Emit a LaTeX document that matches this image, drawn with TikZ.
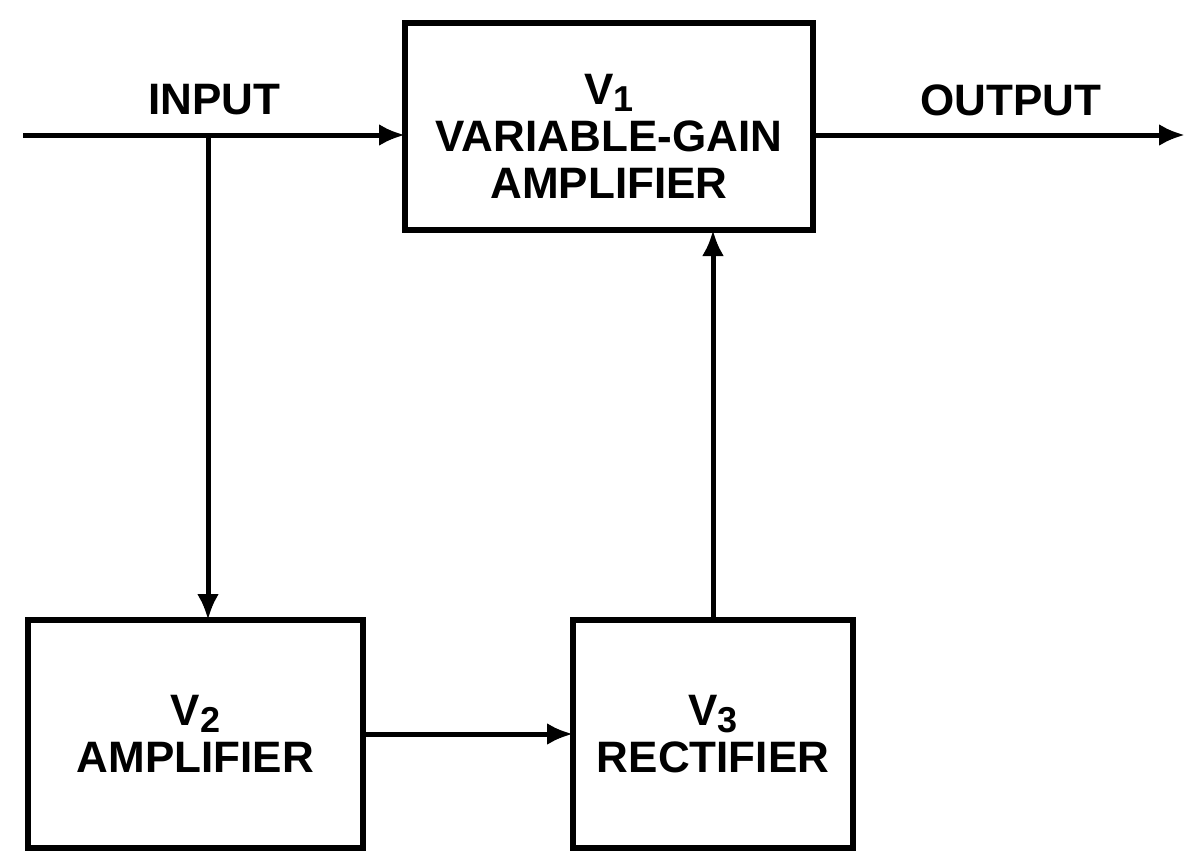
\documentclass[tikz,border=0pt]{standalone}
\usepackage{fontspec}
\setmainfont{Liberation Sans}
\usetikzlibrary{arrows.meta}
\newcommand{\sub}[1]{\raisebox{-7pt}{\fontsize{36}{36}\selectfont #1}}
\begin{document}
\begin{tikzpicture}[x=1pt,y=-1pt,
  blk/.style={draw, line width=6pt, inner sep=0pt, outer sep=0pt, rectangle},
  lbl/.style={font=\fontsize{44}{47}\selectfont\bfseries, align=center, inner sep=0pt},
  wire/.style={line width=5pt},
  arr/.style={wire, -{Latex[length=26pt,width=22pt]}}]
\useasboundingbox (0,0) rectangle (1187,852);
\node[blk, minimum width=408pt, minimum height=207pt] (V1) at (609,126.5) {};
\node[blk, minimum width=335pt, minimum height=228pt] (V2) at (195.5,734) {};
\node[blk, minimum width=280pt, minimum height=228pt] (V3) at (713,734) {};
\node[lbl] (L1) at (609,136) {V\sub{1}\\VARIABLE-GAIN\\AMPLIFIER};
\node[lbl] (L2) at (195.5,734) {V\sub{2}\\AMPLIFIER};
\node[lbl] (L3) at (713,734) {V\sub{3}\\RECTIFIER};
\node[lbl] (tin) at (214,100) {INPUT};
\node[lbl] (tout) at (1011,100) {OUTPUT};
\coordinate (in) at (23,135);
\coordinate (br) at (208,135);
\coordinate (out) at (1185,135);
\draw[arr] (in) -- (in -| V1.west);
\draw[arr] (br) -- (br |- V2.north);
\draw[arr] (V2.east) -- (V3.west);
\draw[arr] (V3.north) -- (V3.north |- V1.south);
\draw[arr] (in -| V1.east) -- (out);
\end{tikzpicture}
\end{document}
